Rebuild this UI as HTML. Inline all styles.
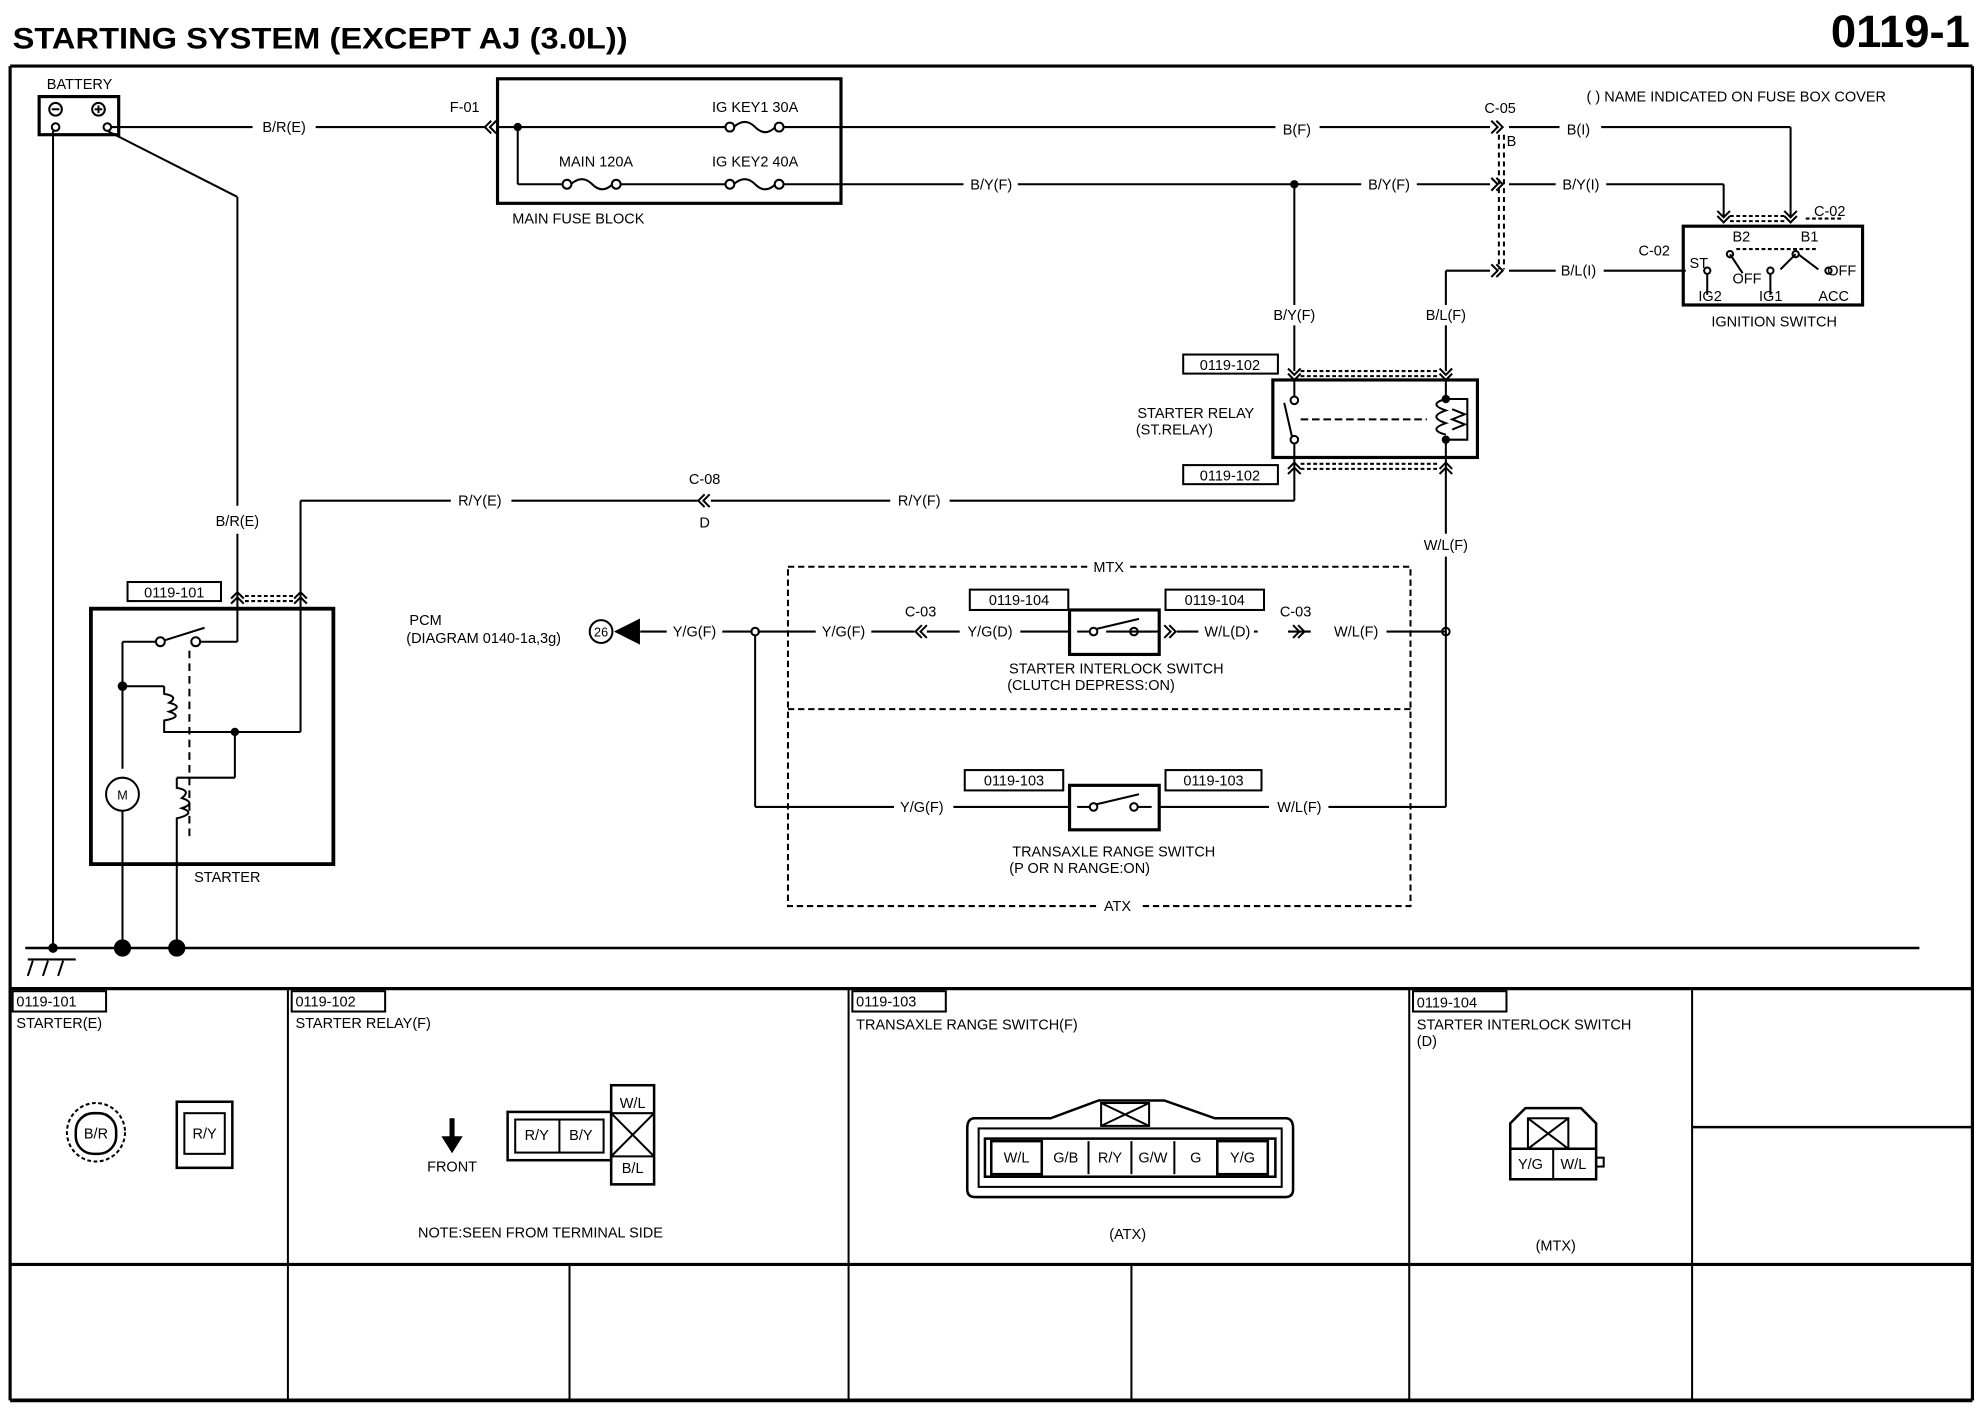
<!DOCTYPE html>
<html><head><meta charset="utf-8"><style>
html,body{margin:0;padding:0;background:#fff;}
svg{display:block;}
text{font-family:"Liberation Sans",Arial,sans-serif;font-size:11.5px;fill:#000;}
.b{font-weight:bold;}
</style></head><body>
<svg width="1980" height="1408" viewBox="0 0 1568 1108" preserveAspectRatio="none" xmlns="http://www.w3.org/2000/svg">
<g stroke="#000" fill="none" stroke-width="1.6">
<line x1="8" y1="52" x2="1562" y2="52" stroke-width="2.5"/>
<line x1="8" y1="52" x2="8" y2="1102" stroke-width="2.5"/>
<line x1="1562" y1="52" x2="1562" y2="1102" stroke-width="2.5"/>
<line x1="8" y1="778" x2="1562" y2="778" stroke-width="2.5"/>
<line x1="8" y1="995" x2="1562" y2="995" stroke-width="2.5"/>
<line x1="8" y1="1102" x2="1562" y2="1102" stroke-width="3"/>
<line x1="228" y1="778" x2="228" y2="1102"/>
<line x1="672" y1="778" x2="672" y2="1102"/>
<line x1="1116" y1="778" x2="1116" y2="1102"/>
<line x1="1340" y1="778" x2="1340" y2="1102"/>
<line x1="451" y1="995" x2="451" y2="1102"/>
<line x1="896" y1="995" x2="896" y2="1102"/>
<line x1="1340" y1="887" x2="1562" y2="887" stroke-width="2"/>
<line x1="20" y1="746" x2="1520" y2="746" stroke-width="2"/>
<line x1="22" y1="755" x2="60" y2="755"/><line x1="26" y1="756" x2="22" y2="768"/><line x1="38" y1="756" x2="34" y2="768"/><line x1="50" y1="756" x2="46" y2="768"/>
<rect x="31" y="76" width="63" height="30" stroke-width="2.5"/>
<circle cx="44" cy="86" r="5"/><line x1="41" y1="86" x2="47" y2="86"/>
<circle cx="78" cy="86" r="5"/><line x1="75" y1="86" x2="81" y2="86"/><line x1="78" y1="83" x2="78" y2="89"/>
<circle cx="44" cy="100" r="3"/><circle cx="85" cy="100" r="3"/>
<line x1="42" y1="103" x2="42" y2="746"/>
<line x1="88" y1="100" x2="200" y2="100"/><line x1="250" y1="100" x2="385" y2="100"/>
<line x1="85" y1="103" x2="188" y2="155"/><line x1="188" y1="155" x2="188" y2="398"/><line x1="188" y1="420" x2="188" y2="479"/>
<path d="M389 95 L384 100 L389 105 M393 95 L388 100 L393 105"/>
<rect x="394" y="62" width="272" height="98" stroke-width="2.5"/>
<line x1="394" y1="100" x2="575" y2="100"/><line x1="620" y1="100" x2="666" y2="100"/>
<circle cx="410" cy="100" r="2.5" fill="#000"/>
<line x1="410" y1="100" x2="410" y2="145"/><line x1="410" y1="145" x2="445" y2="145"/>
<line x1="492" y1="145" x2="575" y2="145"/><line x1="620" y1="145" x2="666" y2="145"/>
<circle cx="578" cy="100" r="3.5"/><circle cx="617" cy="100" r="3.5"/><path d="M581 100 Q590 92 598 100 Q606 108 614 100"/>
<circle cx="578" cy="145" r="3.5"/><circle cx="617" cy="145" r="3.5"/><path d="M581 145 Q590 137 598 145 Q606 153 614 145"/>
<circle cx="449" cy="145" r="3.5"/><circle cx="488" cy="145" r="3.5"/><path d="M452 145 Q461 137 469 145 Q477 153 485 145"/>
<line x1="666" y1="100" x2="1010" y2="100"/><line x1="1045" y1="100" x2="1180" y2="100"/>
<line x1="1195" y1="100" x2="1235" y2="100"/><line x1="1268" y1="100" x2="1418" y2="100"/>
<line x1="1418" y1="100" x2="1418" y2="170"/>
<path d="M1181 95 L1186 100 L1181 105 M1185 95 L1190 100 L1185 105"/>
<line x1="666" y1="145" x2="763" y2="145"/><line x1="806" y1="145" x2="1078" y2="145"/><line x1="1122" y1="145" x2="1180" y2="145"/>
<line x1="1195" y1="145" x2="1232" y2="145"/><line x1="1272" y1="145" x2="1365" y2="145"/><line x1="1365" y1="145" x2="1365" y2="170"/>
<path d="M1181 140 L1186 145 L1181 150 M1185 140 L1190 145 L1185 150"/>
<circle cx="1025" cy="145" r="2.5" fill="#000"/>
<line x1="1025" y1="145" x2="1025" y2="240"/><line x1="1025" y1="256" x2="1025" y2="292"/>
<line x1="1145" y1="213" x2="1180" y2="213"/><line x1="1195" y1="213" x2="1232" y2="213"/><line x1="1270" y1="213" x2="1335" y2="213"/>
<path d="M1181 208 L1186 213 L1181 218 M1185 208 L1190 213 L1185 218"/>
<line x1="1145" y1="213" x2="1145" y2="240"/><line x1="1145" y1="256" x2="1145" y2="292"/>
<line x1="1187" y1="106" x2="1187" y2="212" stroke-dasharray="4,3"/>
<line x1="1191" y1="106" x2="1191" y2="212" stroke-dasharray="4,3"/>
<rect x="1333" y="178" width="142" height="62" stroke-width="2.5"/>
<path d="M1360 170 L1365 175 L1370 170 M1360 166 L1365 171 L1370 166 M1413 170 L1418 175 L1423 170 M1413 166 L1418 171 L1423 166"/>
<line x1="1370" y1="170" x2="1413" y2="170" stroke-dasharray="3,2"/><line x1="1370" y1="174" x2="1413" y2="174" stroke-dasharray="3,2"/>
<line x1="1430" y1="172" x2="1460" y2="172" stroke-dasharray="3,2"/>
<circle cx="1370" cy="200" r="2.5"/><line x1="1370" y1="200" x2="1380" y2="215"/><circle cx="1352" cy="213" r="2.5"/>
<circle cx="1422" cy="200" r="2.5"/><line x1="1422" y1="200" x2="1410" y2="212"/><line x1="1424" y1="200" x2="1440" y2="212"/>
<circle cx="1402" cy="213" r="2.5"/><circle cx="1448" cy="213" r="2.5"/>
<line x1="1375" y1="196" x2="1440" y2="196" stroke-dasharray="3,2"/>
<line x1="1352" y1="216" x2="1352" y2="232"/><line x1="1402" y1="216" x2="1402" y2="232"/>
<path d="M1020 294 L1025 299 L1030 294 M1020 290 L1025 295 L1030 290 M1140 294 L1145 299 L1150 294 M1140 290 L1145 295 L1150 290"/>
<line x1="1030" y1="292" x2="1140" y2="292" stroke-dasharray="3,2"/><line x1="1030" y1="296" x2="1140" y2="296" stroke-dasharray="3,2"/>
<rect x="1008" y="299" width="162" height="61" stroke-width="2.5"/>
<line x1="1025" y1="299" x2="1025" y2="312"/><circle cx="1025" cy="315" r="3"/><circle cx="1025" cy="346" r="3"/>
<line x1="1025" y1="349" x2="1025" y2="360"/><line x1="1023" y1="343" x2="1017" y2="317"/>
<line x1="1030" y1="330" x2="1130" y2="330" stroke-dasharray="6,3"/>
<line x1="1145" y1="299" x2="1145" y2="312"/><circle cx="1145" cy="314" r="2.5" fill="#000"/><circle cx="1145" cy="346" r="2.5" fill="#000"/>
<line x1="1145" y1="346" x2="1145" y2="360"/>
<path d="M1145 314 Q1130 318 1145 323 Q1130 328 1145 333 Q1130 338 1145 342"/>
<path d="M1145 314 L1162 314 L1162 346 L1145 346"/>
<path d="M1150 322 L1160 326 L1150 330 L1160 334 L1150 338"/>
<path d="M1020 369 L1025 364 L1030 369 M1020 373 L1025 368 L1030 373 M1140 369 L1145 364 L1150 369 M1140 373 L1145 368 L1150 373"/>
<line x1="1030" y1="365" x2="1140" y2="365" stroke-dasharray="3,2"/><line x1="1030" y1="369" x2="1140" y2="369" stroke-dasharray="3,2"/>
<line x1="1025" y1="360" x2="1025" y2="394"/>
<line x1="1025" y1="394" x2="752" y2="394"/><line x1="705" y1="394" x2="563" y2="394"/>
<line x1="553" y1="394" x2="405" y2="394"/><line x1="357" y1="394" x2="238" y2="394"/>
<path d="M558 389 L553 394 L558 399 M562 389 L557 394 L562 399"/>
<line x1="238" y1="394" x2="238" y2="576"/><line x1="238" y1="576" x2="186" y2="576"/>
<line x1="1145" y1="360" x2="1145" y2="420"/><line x1="1145" y1="438" x2="1145" y2="635"/>
<circle cx="1145" cy="497" r="3"/>
<line x1="1145" y1="497" x2="1098" y2="497"/><line x1="1038" y1="497" x2="1020" y2="497"/><line x1="996" y1="497" x2="993" y2="497"/><line x1="949" y1="497" x2="932" y2="497"/>
<path d="M1024 492 L1029 497 L1024 502 M1028 492 L1033 497 L1028 502"/>
<path d="M922 492 L927 497 L922 502 M926 492 L931 497 L926 502"/>
<line x1="918" y1="497" x2="876" y2="497"/><line x1="848" y1="497" x2="808" y2="497"/>
<line x1="760" y1="497" x2="734" y2="497"/><line x1="724" y1="497" x2="690" y2="497"/>
<path d="M730 492 L725 497 L730 502 M734 492 L729 497 L734 502"/>
<line x1="646" y1="497" x2="600" y2="497"/><line x1="572" y1="497" x2="596" y2="497"/><line x1="507" y1="497" x2="528" y2="497"/>
<circle cx="598" cy="497" r="3"/>
<line x1="598" y1="500" x2="598" y2="635"/><line x1="598" y1="635" x2="708" y2="635"/><line x1="755" y1="635" x2="847" y2="635"/>
<line x1="918" y1="635" x2="1005" y2="635"/><line x1="1052" y1="635" x2="1145" y2="635"/>
<rect x="847" y="480" width="71" height="35" stroke-width="2.5"/>
<circle cx="866" cy="497" r="3"/><circle cx="898" cy="497" r="3"/><line x1="868" y1="495" x2="902" y2="487"/>
<line x1="853" y1="497" x2="863" y2="497"/><line x1="901" y1="497" x2="912" y2="497"/>
<rect x="847" y="618" width="71" height="35" stroke-width="2.5"/>
<circle cx="866" cy="635" r="3"/><circle cx="898" cy="635" r="3"/><line x1="868" y1="633" x2="902" y2="625"/>
<line x1="853" y1="635" x2="863" y2="635"/><line x1="901" y1="635" x2="912" y2="635"/>
<circle cx="476" cy="497" r="9"/>
<path d="M488 497 L506 488 L506 506 Z" fill="#000"/>
<path d="M624 446 L862 446 M895 446 L1117 446 L1117 713 L903 713 M868 713 L624 713 L624 446" stroke-dasharray="5,3"/>
<line x1="624" y1="558" x2="1117" y2="558" stroke-dasharray="5,3"/>
<rect x="72" y="479" width="192" height="201" stroke-width="3"/>
<path d="M183 475 L188 470 L193 475 M183 471 L188 466 L193 471 M233 475 L238 470 L243 475 M233 471 L238 466 L243 471"/>
<line x1="194" y1="469" x2="232" y2="469" stroke-dasharray="3,2"/><line x1="194" y1="473" x2="232" y2="473" stroke-dasharray="3,2"/>
<line x1="188" y1="479" x2="188" y2="505"/><line x1="188" y1="505" x2="158" y2="505"/>
<circle cx="155" cy="505" r="3.5"/><circle cx="127" cy="505" r="3.5"/><line x1="130" y1="504" x2="162" y2="494"/>
<line x1="124" y1="505" x2="97" y2="505"/><line x1="97" y1="505" x2="97" y2="605"/>
<circle cx="97" cy="540" r="3" fill="#000"/><line x1="97" y1="540" x2="130" y2="540"/>
<path d="M130 540 L130 546 Q142 548 134 553 Q146 556 134 560 Q146 564 130 567 L130 576 L186 576"/>
<circle cx="186" cy="576" r="2.5" fill="#000"/>
<line x1="186" y1="576" x2="186" y2="612"/><line x1="186" y1="612" x2="140" y2="612"/>
<path d="M140 612 L140 620 Q152 622 144 628 Q156 632 144 636 Q156 640 140 644 L140 746"/>
<line x1="150" y1="512" x2="150" y2="660" stroke-dasharray="6,4"/>
<circle cx="97" cy="625" r="13"/>
<line x1="97" y1="638" x2="97" y2="746"/>
<circle cx="42" cy="746" r="3" fill="#000"/><circle cx="97" cy="746" r="6" fill="#000"/><circle cx="140" cy="746" r="6" fill="#000"/>
<rect x="101" y="458" width="74" height="15"/>
<rect x="937" y="279" width="75" height="15"/><rect x="937" y="366" width="75" height="15"/>
<rect x="768" y="464" width="78" height="16"/><rect x="923" y="464" width="78" height="16"/>
<rect x="764" y="606" width="78" height="16"/><rect x="923" y="606" width="76" height="16"/>
<rect x="10" y="780" width="74" height="16"/><rect x="231" y="780" width="74" height="16"/>
<rect x="675" y="780" width="74" height="16"/><rect x="1119" y="780" width="74" height="16"/>
<circle cx="76" cy="891" r="23" stroke-dasharray="3,2"/><rect x="60" y="876" width="32" height="32" rx="14" stroke-width="2"/>
<rect x="140" y="867" width="44" height="52" stroke-width="2"/><rect x="146" y="876" width="32" height="32"/>
<line x1="358" y1="880" x2="358" y2="897" stroke-width="4"/><path d="M351 895 L365 895 L358 906 Z" fill="#000"/>
<rect x="402" y="875" width="82" height="38" stroke-width="2"/><rect x="408" y="881" width="70" height="26"/><line x1="443" y1="881" x2="443" y2="907"/>
<rect x="484" y="854" width="34" height="78" stroke-width="2"/><line x1="484" y1="876" x2="518" y2="876"/><line x1="484" y1="910" x2="518" y2="910"/>
<line x1="484" y1="876" x2="518" y2="910"/><line x1="518" y1="876" x2="484" y2="910"/>
<path d="M772 880 L832 880 L870 866 L922 866 L962 880 L1018 880 Q1024 880 1024 888 L1024 936 Q1024 942 1018 942 L772 942 Q766 942 766 936 L766 888 Q766 880 772 880 Z" stroke-width="2"/>
<rect x="775" y="888" width="240" height="46"/>
<rect x="872" y="868" width="38" height="18"/><line x1="872" y1="868" x2="910" y2="886"/><line x1="910" y1="868" x2="872" y2="886"/>
<rect x="780" y="896" width="230" height="30" stroke-width="2"/>
<rect x="785" y="898" width="40" height="26" stroke-width="2"/><rect x="964" y="898" width="40" height="26" stroke-width="2"/>
<line x1="825" y1="898" x2="825" y2="924"/><line x1="862" y1="898" x2="862" y2="924"/><line x1="896" y1="898" x2="896" y2="924"/><line x1="930" y1="898" x2="930" y2="924"/><line x1="964" y1="898" x2="964" y2="924"/>
<path d="M1196 904 L1196 884 L1208 872 L1252 872 L1264 884 L1264 904" stroke-width="2"/>
<rect x="1196" y="904" width="68" height="24" stroke-width="2"/><line x1="1230" y1="904" x2="1230" y2="928"/>
<rect x="1210" y="880" width="32" height="24"/><line x1="1210" y1="880" x2="1242" y2="904"/><line x1="1242" y1="880" x2="1210" y2="904"/>
<rect x="1264" y="911" width="6" height="7"/>
</g>
<text x="10" y="38" class="b" style="font-size:23px" textLength="487" lengthAdjust="spacingAndGlyphs">STARTING SYSTEM (EXCEPT AJ (3.0L))</text>
<text x="1560" y="37" class="b" text-anchor="end" style="font-size:36px">0119-1</text>
<text x="63" y="70" text-anchor="middle">BATTERY</text>
<text x="225" y="104" text-anchor="middle">B/R(E)</text>
<text x="368" y="88" text-anchor="middle">F-01</text>
<text x="598" y="88" text-anchor="middle">IG KEY1 30A</text>
<text x="598" y="131" text-anchor="middle">IG KEY2 40A</text>
<text x="472" y="131" text-anchor="middle">MAIN 120A</text>
<text x="458" y="176" text-anchor="middle">MAIN FUSE BLOCK</text>
<text x="1027" y="106" text-anchor="middle">B(F)</text>
<text x="785" y="149" text-anchor="middle">B/Y(F)</text>
<text x="1100" y="149" text-anchor="middle">B/Y(F)</text>
<text x="1188" y="89" text-anchor="middle">C-05</text>
<text x="1197" y="115" text-anchor="middle">B</text>
<text x="1250" y="106" text-anchor="middle">B(I)</text>
<text x="1252" y="149" text-anchor="middle">B/Y(I)</text>
<text x="1250" y="217" text-anchor="middle">B/L(I)</text>
<text x="1375" y="80" text-anchor="middle">( ) NAME INDICATED ON FUSE BOX COVER</text>
<text x="1449" y="170" text-anchor="middle">C-02</text>
<text x="1310" y="201" text-anchor="middle">C-02</text>
<text x="1405" y="257" text-anchor="middle">IGNITION SWITCH</text>
<g style="font-size:7px"><text x="1372" y="190">B2</text><text x="1426" y="190">B1</text><text x="1338" y="211">ST</text><text x="1372" y="223">OFF</text><text x="1447" y="217">OFF</text><text x="1345" y="237">IG2</text><text x="1393" y="237">IG1</text><text x="1440" y="237">ACC</text></g>
<text x="1025" y="252" text-anchor="middle">B/Y(F)</text>
<text x="1145" y="252" text-anchor="middle">B/L(F)</text>
<text x="974" y="291" text-anchor="middle">0119-102</text>
<text x="974" y="378" text-anchor="middle">0119-102</text>
<text x="947" y="329" text-anchor="middle">STARTER RELAY</text>
<text x="930" y="342" text-anchor="middle">(ST.RELAY)</text>
<text x="1145" y="433" text-anchor="middle">W/L(F)</text>
<text x="558" y="381" text-anchor="middle">C-08</text>
<text x="558" y="415" text-anchor="middle">D</text>
<text x="728" y="398" text-anchor="middle">R/Y(F)</text>
<text x="380" y="398" text-anchor="middle">R/Y(E)</text>
<text x="188" y="414" text-anchor="middle">B/R(E)</text>
<text x="138" y="470" text-anchor="middle">0119-101</text>
<text x="180" y="694" text-anchor="middle">STARTER</text>
<text x="97" y="629" text-anchor="middle" style="font-size:10px">M</text>
<text x="337" y="492" text-anchor="middle">PCM</text>
<text x="383" y="506" text-anchor="middle">(DIAGRAM 0140-1a,3g)</text>
<text x="476" y="501" text-anchor="middle" style="font-size:10px">26</text>
<text x="550" y="501" text-anchor="middle">Y/G(F)</text>
<text x="668" y="501" text-anchor="middle">Y/G(F)</text>
<text x="729" y="485" text-anchor="middle">C-03</text>
<text x="784" y="501" text-anchor="middle">Y/G(D)</text>
<text x="807" y="476" text-anchor="middle">0119-104</text>
<text x="962" y="476" text-anchor="middle">0119-104</text>
<text x="972" y="501" text-anchor="middle">W/L(D)</text>
<text x="1026" y="485" text-anchor="middle">C-03</text>
<text x="1074" y="501" text-anchor="middle">W/L(F)</text>
<text x="878" y="450" text-anchor="middle">MTX</text>
<text x="884" y="530" text-anchor="middle">STARTER INTERLOCK SWITCH</text>
<text x="864" y="543" text-anchor="middle">(CLUTCH DEPRESS:ON)</text>
<text x="803" y="618" text-anchor="middle">0119-103</text>
<text x="961" y="618" text-anchor="middle">0119-103</text>
<text x="730" y="639" text-anchor="middle">Y/G(F)</text>
<text x="1029" y="639" text-anchor="middle">W/L(F)</text>
<text x="882" y="674" text-anchor="middle">TRANSAXLE RANGE SWITCH</text>
<text x="855" y="687" text-anchor="middle">(P OR N RANGE:ON)</text>
<text x="885" y="717" text-anchor="middle">ATX</text>
<text x="13" y="792">0119-101</text><text x="13" y="809">STARTER(E)</text>
<text x="234" y="792">0119-102</text><text x="234" y="809">STARTER RELAY(F)</text>
<text x="678" y="792">0119-103</text><text x="678" y="810">TRANSAXLE RANGE SWITCH(F)</text>
<text x="1122" y="793">0119-104</text><text x="1122" y="810">STARTER INTERLOCK SWITCH</text><text x="1122" y="823">(D)</text>
<text x="76" y="896" text-anchor="middle">B/R</text>
<text x="162" y="896" text-anchor="middle">R/Y</text>
<text x="425" y="897" text-anchor="middle">R/Y</text><text x="460" y="897" text-anchor="middle">B/Y</text>
<text x="501" y="872" text-anchor="middle">W/L</text><text x="501" y="923" text-anchor="middle">B/L</text>
<text x="358" y="922" text-anchor="middle">FRONT</text>
<text x="428" y="974" text-anchor="middle">NOTE:SEEN FROM TERMINAL SIDE</text>
<text x="805" y="915" text-anchor="middle">W/L</text><text x="844" y="915" text-anchor="middle">G/B</text><text x="879" y="915" text-anchor="middle">R/Y</text><text x="913" y="915" text-anchor="middle">G/W</text><text x="947" y="915" text-anchor="middle">G</text><text x="984" y="915" text-anchor="middle">Y/G</text>
<text x="893" y="975" text-anchor="middle">(ATX)</text>
<text x="1212" y="920" text-anchor="middle">Y/G</text><text x="1246" y="920" text-anchor="middle">W/L</text>
<text x="1232" y="984" text-anchor="middle">(MTX)</text>
</svg>
</body></html>
